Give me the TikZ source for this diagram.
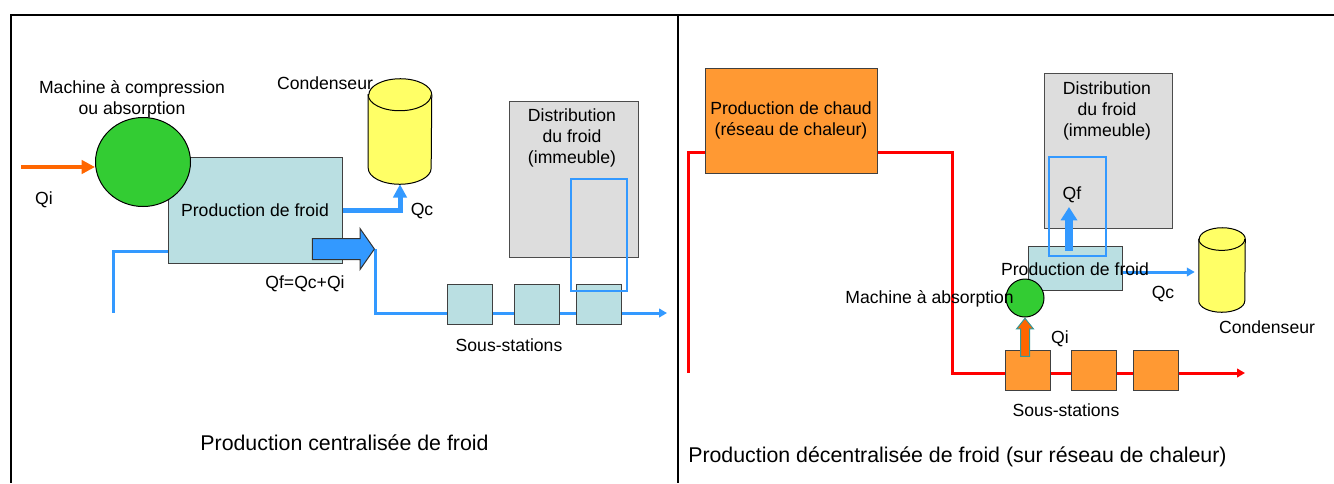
\documentclass[tikz,border=0pt]{standalone}
\usepackage{fontspec}
\setmainfont{Liberation Sans}
\usepackage{tikz}
\usetikzlibrary{arrows.meta,calc,shapes.geometric,shapes.arrows,backgrounds}
\definecolor{FroidBlue}{HTML}{3399FF}
\definecolor{FroidIce}{HTML}{BADFE2}
\definecolor{FroidGreen}{HTML}{33CC33}
\definecolor{FroidYellow}{HTML}{FFFF66}
\definecolor{FroidGray}{HTML}{DDDDDD}
\definecolor{ChaudOrange}{HTML}{FF9933}
\definecolor{ChaudArrow}{HTML}{FF6600}
\definecolor{ChaudRed}{HTML}{FF0000}
\definecolor{FroidTeal}{HTML}{339999}
\def\pxu{0.75pt}
\tikzset{
  txt/.style={font=\fontsize{13.2}{15.8}\selectfont, inner sep=0pt, align=center},
  captiontxt/.style={font=\fontsize{16}{19}\selectfont, inner sep=0pt},
  panelrule/.style={line width=1.5pt},
  procbox/.style={draw=black!75, line width=0.75pt, fill=FroidIce, inner sep=0pt},
  heatbox/.style={draw=black!75, line width=0.75pt, fill=ChaudOrange, inner sep=0pt},
  distbox/.style={draw=black!70, line width=0.75pt, fill=FroidGray, inner sep=0pt},
  machine/.style={ellipse, draw=black, line width=0.75pt, fill=FroidGreen, inner sep=0pt},
  condbox/.style={inner sep=0pt},
  condenser/.style={draw=black, line width=0.75pt, fill=FroidYellow},
  buildingloop/.style={draw=FroidBlue, line width=1.5pt, inner sep=0pt},
  coldpipe/.style={draw=FroidBlue, line width=2.25pt},
  heatpipe/.style={draw=ChaudRed, line width=2.25pt},
  pipetip/.style={-{Triangle[length=6pt,width=6.5pt]}},
  condpipe/.style={draw=FroidBlue, line width=3.75pt, -{Triangle[length=10pt,width=10pt]}},
  heatarrow/.style={draw=ChaudArrow, line width=3pt, -{Triangle[length=10pt,width=10pt]}},
  qfarrow/.style={draw=FroidBlue, line width=6pt, -{Triangle[length=10pt,width=12pt]}},
  bigarrow/.style={single arrow, draw=black!80, line width=0.75pt, fill=FroidBlue,
    minimum height=62*\pxu, minimum width=40*\pxu, single arrow head extend=10*\pxu,
    single arrow tip angle=110, inner xsep=0pt, inner ysep=10*\pxu},
  qiarrow/.style={single arrow, shape border rotate=90, draw=FroidTeal, line width=0.75pt,
    fill=ChaudArrow, minimum height=38*\pxu, minimum width=16*\pxu,
    single arrow head extend=4*\pxu, single arrow tip angle=77, inner xsep=4*\pxu, inner ysep=0pt}
}
% cylindre sur le cadre d'un noeud : noeud, rayon x, rayon y
\newcommand{\drawcondenser}[3]{%
  \draw[condenser] ($(#1.north west)+(0,-#3)$) -- ($(#1.south west)+(0,#3)$)
    arc[start angle=180, end angle=360, x radius=#2, y radius=#3]
    -- ($(#1.north east)+(0,-#3)$)
    arc[start angle=0, end angle=180, x radius=#2, y radius=#3] -- cycle;
  \draw[condenser, fill=none] ($(#1.north west)+(0,-#3)$)
    arc[start angle=180, end angle=360, x radius=#2, y radius=#3];
}

\begin{document}
\begin{tikzpicture}[x=0.75pt, y=-0.75pt]
  \useasboundingbox (0,0) rectangle (1334,483);
  % cadre
  \draw[panelrule] (10,15) -- (1334,15);
  \draw[panelrule] (11,15) -- (11,483);
  \draw[panelrule] (678,15) -- (678,483);

  % production centralisee
  \node[procbox, txt, minimum width=174*\pxu, minimum height=106*\pxu] (prodL) at (255,210) {Production de froid};
  \node[machine, minimum width=95*\pxu, minimum height=89*\pxu] (machL) at (143,162) {};
  \node[condbox, minimum width=63*\pxu, minimum height=105*\pxu] (condL) at (400,131.5) {};
  \drawcondenser{condL}{23.6pt}{12pt}
  \node[distbox, minimum width=129*\pxu, minimum height=156*\pxu] (distL) at (573.5,179) {};
  \node[txt] (distLtxt) at (572,138) {Distribution\\du froid\\(immeuble)};
  \foreach \x [count=\i] in {469.5,537,598.5}
    \node[procbox, minimum width=45*\pxu, minimum height=40*\pxu] (ssL\i) at (\x,304) {};
  \node[buildingloop, minimum width=56*\pxu, minimum height=112*\pxu] (loopL) at (599,235) {};
  \node[bigarrow, anchor=tip] (qfL) at (375,249) {};
  \coordinate (qiLstart) at (21,167);
  \coordinate (retL) at (113,313);
  \coordinate (endL) at (667,313);
  \draw[heatarrow] (qiLstart) -- (qiLstart -| machL.west);
  \draw[condpipe] (prodL.east) -| (condL.south);
  \begin{pgfonlayer}{background}
    \draw[coldpipe] ($(prodL.west)+(0,41)$) -| (retL);
    \draw[coldpipe, pipetip] (qfL.tip) |- (endL);
  \end{pgfonlayer}
  \node[txt] (machLtxt) at (132,99.5) {Machine à compression\\ou absorption};
  \node[txt] (qiLtxt) at (44,200) {Qi};
  \node[txt] (condLtxt) at (325,83) {Condenseur};
  \node[txt] (qcLtxt) at (422,211) {Qc};
  \node[txt] (qfLtxt) at (305,284) {Qf=Qc+Qi};
  \node[txt] (ssLtxt) at (509,345) {Sous-stations};
  \node[captiontxt] (titleL) at (344.5,443) {Production centralisée de froid};

  % production decentralisee
  \node[heatbox, txt, minimum width=172*\pxu, minimum height=105*\pxu] (chaud) at (791,120.5) {Production de chaud\\(réseau de chaleur)};
  \node[distbox, minimum width=128*\pxu, minimum height=155*\pxu] (distR) at (1108,150.5) {};
  \node[txt] (distRtxt) at (1107,111) {Distribution\\du froid\\(immeuble)};
  \node[procbox, minimum width=94*\pxu, minimum height=44*\pxu] (prodR) at (1075,268) {};
  \node[buildingloop, minimum width=57*\pxu, minimum height=99*\pxu] (loopR) at (1077.5,206.5) {};
  \node[machine, minimum size=38*\pxu] (machR) at (1025,298) {};
  \node[condbox, minimum width=46*\pxu, minimum height=84*\pxu] (condR) at (1222,270) {};
  \drawcondenser{condR}{17.25pt}{8.5pt}
  \foreach \x [count=\i] in {1027.5,1094,1155.5}
    \node[heatbox, minimum width=45*\pxu, minimum height=40*\pxu] (ssR\i) at (\x,370) {};
  \node[qiarrow, anchor=tip] (qiR) at (machR.south) {};
  \coordinate (qfRtip) at (1069,207);
  \coordinate (redL) at (688,373);
  \coordinate (turnR) at (952,373);
  \coordinate (endR) at (1245,373);
  \draw[qfarrow] ($(prodR.north -| qfRtip)+(0,5)$) -- (qfRtip);
  \draw[coldpipe, pipetip] ($(prodR.east)+(0,4)$) -- ($(prodR.east -| condR.west)+(-4,4)$);
  \begin{pgfonlayer}{background}
    \draw[heatpipe] ($(chaud.west)+(0,31.5)$) -| (redL);
    \draw[heatpipe, pipetip] ($(chaud.east)+(0,31.5)$) -| (turnR) -- (endR);
  \end{pgfonlayer}
  \node[txt] (prodRtxt) at (1075,269) {Production de froid};
  \node[txt, anchor=east] (machRtxt) at (1014,299) {Machine à absorption};
  \node[txt] (qfRtxt) at (1072,195) {Qf};
  \node[txt] (qcRtxt) at (1163,294) {Qc};
  \node[txt] (qiRtxt) at (1060,339) {Qi};
  \node[txt] (condRtxt) at (1267,327) {Condenseur};
  \node[txt] (ssRtxt) at (1066,410) {Sous-stations};
  \node[captiontxt, anchor=west] (titleR) at (688,457) {Production décentralisée de froid (sur réseau de chaleur)};
\end{tikzpicture}
\end{document}
